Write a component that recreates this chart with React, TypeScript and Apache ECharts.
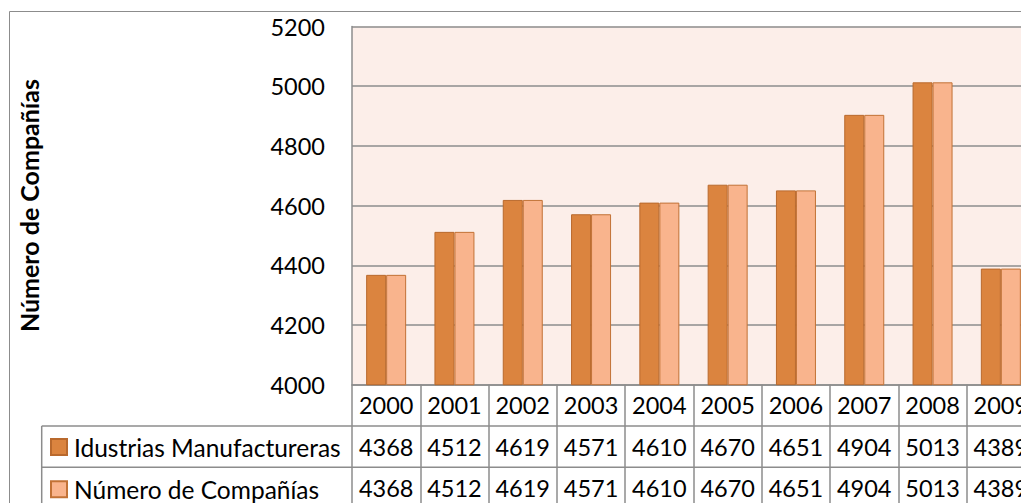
import React, { useEffect, useRef } from "react";
import * as echarts from "echarts";

// Years shown along the category axis / table header
const years = ["2000", "2001", "2002", "2003", "2004", "2005", "2006", "2007", "2008", "2009"];
// Series values (also listed in the data table under the plot)
const manufactureras = [4368, 4512, 4619, 4571, 4610, 4670, 4651, 4904, 5013, 4389];
const companias = [4368, 4512, 4619, 4571, 4610, 4670, 4651, 4904, 5013, 4389];
const seriesNames = ["Idustrias Manufactureras", "Número de Compañías"];
const yMin = 4000;
const yMax = 5200;
const yStep = 200;

const FONT = "Lato, 'Open Sans', sans-serif";
const GRID_GRAY = "#8c8c8c";

export default function App() {
  const ref = useRef<HTMLDivElement>(null);

  useEffect(() => {
    if (!ref.current) return;
    const chart = echarts.init(ref.current, undefined, { renderer: "svg" });

    const tableTop = 384.7;
    const rowH = 41.3;

    chart.setOption({
      animation: false,
      backgroundColor: "#ffffff",
      grid: {
        left: 352,
        top: 26.5,
        width: 683,
        height: 358.2,
        show: true,
        backgroundColor: "#fceee9",
        borderWidth: 0,
      },
      legend: {
        orient: "vertical",
        left: 45,
        top: tableTop + rowH + 8.5 - 5,
        itemWidth: 16,
        itemHeight: 16,
        itemGap: 41.3 - 24,
        icon: "rect",
        selectedMode: false,
        data: seriesNames,
        textStyle: {
          fontFamily: FONT,
          fontSize: 24.5,
          lineHeight: 24,
          color: "#000",
          padding: [0, 0, 0, 2],
        },
      },
      xAxis: {
        type: "category",
        data: years,
        boundaryGap: true,
        axisLine: { show: true, lineStyle: { color: GRID_GRAY, width: 1.5 } },
        axisTick: {
          show: true,
          length: rowH * 3 + 5,
          lineStyle: { color: GRID_GRAY, width: 1.5 },
        },
        axisLabel: {
          interval: 0,
          margin: 0,
          fontFamily: FONT,
          fontSize: 23.5,
          lineHeight: rowH,
          color: "#000",
          formatter: (v: string, i: number) => `${v}\n${manufactureras[i]}\n${companias[i]}`,
        },
      },
      yAxis: {
        type: "value",
        min: yMin,
        max: yMax,
        interval: yStep,
        name: "Número de Compañías",
        nameLocation: "middle",
        nameRotate: 90,
        nameGap: 311,
        nameTextStyle: {
          fontFamily: FONT,
          fontSize: 25,
          fontWeight: "bold",
          color: "#000",
        },
        axisLine: { show: true, lineStyle: { color: GRID_GRAY, width: 1.5 } },
        axisTick: { show: false },
        axisLabel: {
          margin: 27,
          fontFamily: FONT,
          fontSize: 23.5,
          color: "#000",
          formatter: (v: number) => String(v),
        },
        splitLine: { show: true, lineStyle: { color: GRID_GRAY, width: 1.5 } },
      },
      series: [
        {
          name: seriesNames[0],
          type: "bar",
          data: manufactureras,
          barWidth: 20,
          barGap: "0%",
          itemStyle: { color: "#db843f", borderColor: "#b9692d", borderWidth: 1 },
        },
        {
          name: seriesNames[1],
          type: "bar",
          data: companias,
          barWidth: 20,
          barGap: "0%",
          itemStyle: { color: "#f9b48d", borderColor: "#c27236", borderWidth: 1 },
        },
      ],
      graphic: [
        // outer chart frame
        {
          type: "rect",
          shape: { x: 9.5, y: 11.5, width: 2000, height: 1000 },
          style: { fill: "none", stroke: GRID_GRAY, lineWidth: 1 },
          silent: true,
        },
        // data-table rules for the two series rows
        {
          type: "line",
          shape: { x1: 41.7, y1: tableTop + rowH, x2: 1100, y2: tableTop + rowH },
          style: { stroke: GRID_GRAY, lineWidth: 1.5 },
          silent: true,
        },
        {
          type: "line",
          shape: { x1: 41.7, y1: tableTop + rowH * 2, x2: 1100, y2: tableTop + rowH * 2 },
          style: { stroke: GRID_GRAY, lineWidth: 1.5 },
          silent: true,
        },
        {
          type: "line",
          shape: { x1: 41.7, y1: tableTop + rowH, x2: 41.7, y2: 600 },
          style: { stroke: GRID_GRAY, lineWidth: 1.5 },
          silent: true,
        },
      ],
    });

    return () => chart.dispose();
  }, []);

  return (
    <div
      style={{
        position: "fixed",
        left: 0,
        top: 0,
        width: 1021,
        height: 503,
        overflow: "hidden",
        background: "#fff",
      }}
    >
      <div ref={ref} style={{ width: 1060, height: 540 }} />
    </div>
  );
}
